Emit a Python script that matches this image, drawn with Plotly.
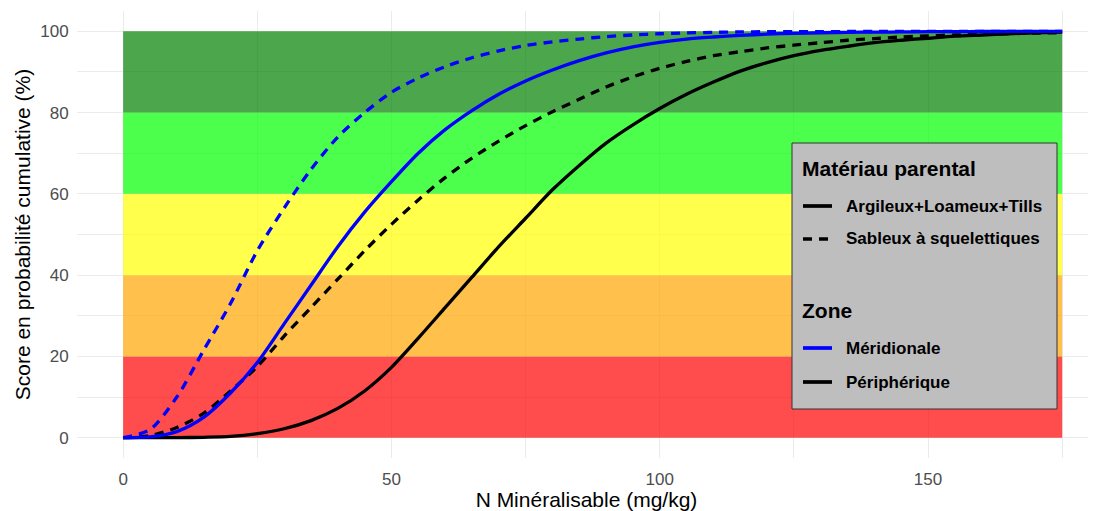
import plotly.graph_objects as go

# ---- data ----
x_vals = [0, 5, 10, 15, 20, 25, 30, 35, 40, 45, 50, 55, 60, 65, 70, 75, 80, 85, 90,
          95, 100, 105, 110, 115, 120, 125, 130, 135, 140, 145, 150, 155, 160, 165, 170, 175]

mer_sableux = [0, 2, 10, 21.5, 33, 46, 56.5, 66, 74, 80, 85, 88.5, 91.3, 93.5, 95.2, 96.5,
               97.4, 98.1, 98.7, 99.1, 99.4, 99.6, 99.75, 99.85, 99.9, 99.92, 99.94, 99.95,
               99.96, 99.97, 99.98, 99.98, 99.99, 99.99, 100, 100]
mer_argileux = [0, 0.2, 1.5, 5, 11, 18.5, 28, 37.5, 47, 55.5, 63, 70, 75.8, 80.5, 84.5, 87.8,
                90.5, 92.8, 94.7, 96.2, 97.3, 98.1, 98.6, 99, 99.3, 99.5, 99.65, 99.75, 99.8,
                99.85, 99.9, 99.93, 99.95, 99.97, 99.98, 100]
per_sableux = [0, 0.5, 2.5, 6, 11.5, 17.5, 25, 32, 39, 46, 52.5, 58.5, 64, 68.8, 73, 76.8,
               80.2, 83.3, 86.3, 88.8, 90.9, 92.6, 94, 95, 95.9, 96.6, 97.2, 97.8, 98.2,
               98.6, 98.9, 99.1, 99.3, 99.45, 99.55, 99.65]
per_argileux = [0, 0, 0, 0.1, 0.3, 1, 2.2, 4.2, 7.2, 11.5, 17.3, 24.5, 32, 39.5, 47, 54, 61,
                67, 72.5, 77, 81, 84.5, 87.5, 90.2, 92.3, 94, 95.3, 96.3, 97.2, 97.8, 98.3,
                98.8, 99.1, 99.4, 99.6, 99.8]

band_low = [0, 20, 40, 60, 80]
band_high = [20, 40, 60, 80, 100]
band_colors = ["rgba(255,0,0,0.7)", "rgba(255,165,0,0.7)", "rgba(255,255,0,0.7)",
               "rgba(0,255,0,0.7)", "rgba(0,128,0,0.7)"]
x_min, x_max = 0, 175

x_ticks = [0, 50, 100, 150]
y_ticks = [0, 20, 40, 60, 80, 100]

legend_groups = [
    ("Matériau parental", [("Argileux+Loameux+Tills", "black", "solid"),
                           ("Sableux à squelettiques", "black", "dash")]),
    ("Zone", [("Méridionale", "blue", "solid"),
              ("Périphérique", "black", "solid")]),
]

FONT = "Liberation Sans, Arial, sans-serif"
LW = 3.3
DASH = "9px,7px"

# figure size (page body has an 8px margin)
W, H = 1088, 503
ML, MR, MT, MB = 69, 0, 3, 53
OFF = 8
PL, PT = ML + OFF, MT + OFF            # plot-area left/top in screen px
PW, PH = W - ML - MR, H - MT - MB


def px(xs):
    return (xs - PL) / PW


def py(ys):
    return (PT + PH - ys) / PH


fig = go.Figure()

for lo, hi, col in zip(band_low, band_high, band_colors):
    fig.add_shape(type="rect", xref="x", yref="y", x0=x_min, x1=x_max, y0=lo, y1=hi,
                  fillcolor=col, line=dict(width=0), layer="between")

curves = [
    (per_argileux, "black", "solid"),
    (per_sableux, "black", DASH),
    (mer_argileux, "blue", "solid"),
    (mer_sableux, "blue", DASH),
]
for ys, col, dash in curves:
    fig.add_trace(go.Scatter(x=x_vals, y=ys, mode="lines", showlegend=False,
                             line=dict(color=col, width=LW, dash=dash, shape="spline", smoothing=0.8),
                             hoverinfo="skip"))

# ---- custom legend (box, titles, keys, labels) ----
fig.add_shape(type="rect", xref="paper", yref="paper", x0=px(792), x1=px(1057),
              y0=py(409), y1=py(143), fillcolor="#BEBEBE", line=dict(color="#333333", width=1),
              layer="above")
title_y = [168, 311]
item_y = [[206, 239], [348, 382]]
for (gtitle, items), ty, iys in zip(legend_groups, title_y, item_y):
    fig.add_annotation(xref="paper", yref="paper", x=px(800), y=py(ty), xanchor="left",
                       yanchor="middle", text=f"<b>{gtitle}</b>", showarrow=False,
                       font=dict(size=21, color="black", family=FONT))
    for (label, col, dash), iy in zip(items, iys):
        fig.add_shape(type="line", xref="paper", yref="paper", x0=px(803), x1=px(832),
                      y0=py(iy), y1=py(iy),
                      line=dict(color=col, width=LW + 0.4, dash=DASH if dash == "dash" else "solid"),
                      layer="above")
        fig.add_annotation(xref="paper", yref="paper", x=px(844), y=py(iy), xanchor="left",
                           yanchor="middle", text=f"<b>{label}</b>", showarrow=False,
                           font=dict(size=17, color="black", family=FONT))

grid_col = "#EBEBEB"
fig.update_layout(
    width=W, height=H,
    margin=dict(l=ML, r=MR, t=MT, b=MB),
    paper_bgcolor="white", plot_bgcolor="white",
    font=dict(family=FONT, color="black"),
    showlegend=False,
    xaxis=dict(range=[-8.6, 181.3], tickvals=x_ticks, showgrid=True, gridcolor=grid_col,
               gridwidth=1.2, zeroline=False, showline=False, automargin=False,
               ticks="outside", ticklen=6, tickcolor="rgba(0,0,0,0)",
               tickfont=dict(size=17, color="#4D4D4D"),
               title=dict(text="N Minéralisable (mg/kg)", font=dict(size=21, color="black"), standoff=5),
               minor=dict(tickvals=[25, 75, 125, 175], showgrid=True, gridcolor=grid_col, gridwidth=0.6)),
    yaxis=dict(range=[-5, 105], tickvals=y_ticks, showgrid=True, gridcolor=grid_col,
               gridwidth=1.2, zeroline=False, showline=False, automargin=False,
               ticks="outside", ticklen=4, tickcolor="rgba(0,0,0,0)",
               tickfont=dict(size=17, color="#4D4D4D"),
               title=dict(text="Score en probabilité cumulative (%)", font=dict(size=21, color="black"), standoff=3),
               minor=dict(tickvals=[10, 30, 50, 70, 90], showgrid=True, gridcolor=grid_col, gridwidth=0.6)),
)

fig.write_html("out.html")
